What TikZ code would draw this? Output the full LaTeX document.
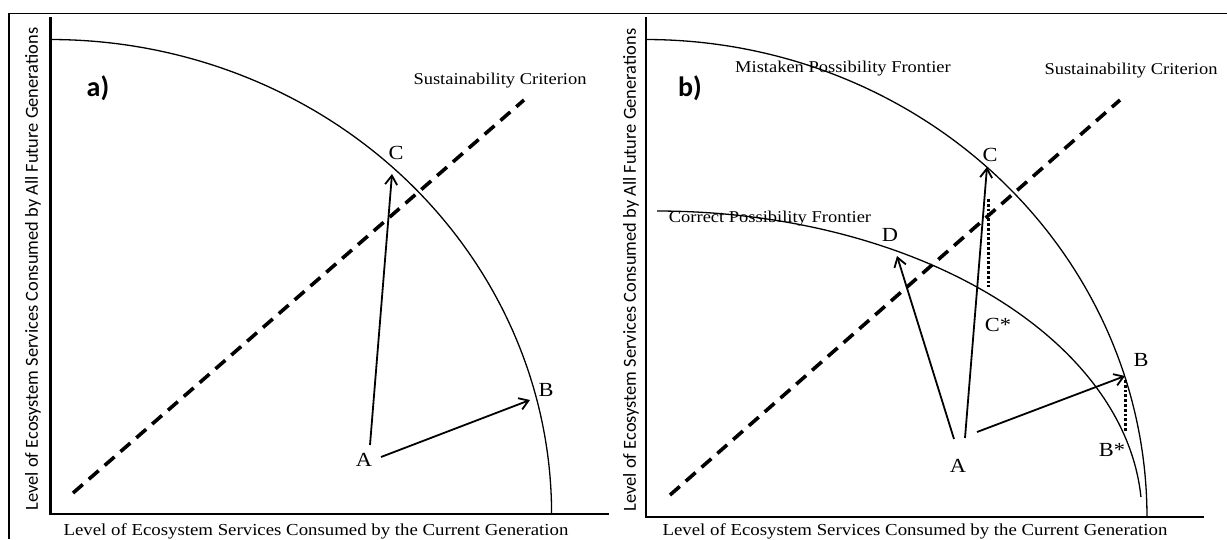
\documentclass[tikz,border=0pt]{standalone}
\usepackage{fontspec}
\setmainfont{Liberation Serif}[FakeStretch=1.12]
\newfontfamily\calib{Carlito}
\usetikzlibrary{arrows.meta}
\tikzset{
  frameline/.style={line width=1.5pt},
  axisline/.style={line width=2.4pt},
  frontier/.style={line width=1.3pt},
  sust/.style={line width=3.6pt, dash pattern=on 13pt off 8pt},
  move/.style={line width=1.8pt, -{Straight Barb[length=9pt,width=12pt,line width=1.8pt]}},
  gapline/.style={line width=3pt, dash pattern=on 2.8pt off 2pt},
  lab/.style={font=\fontsize{20}{20}\selectfont, inner sep=0pt},
  txt/.style={font=\fontsize{16.5}{16.5}\selectfont, inner sep=0pt},
  panel/.style={font=\calib\bfseries\fontsize{28}{28}\selectfont, inner sep=0pt},
  ylab/.style={font=\calib\fontsize{18.4}{18.4}\selectfont, inner sep=0pt, rotate=90},
  xlab/.style={font=\fontsize{16.8}{16.8}\selectfont, inner sep=0pt}
}
\begin{document}
\begin{tikzpicture}[x=1pt,y=-1pt]
\useasboundingbox (0,0) rectangle (1227,539);
% frame
\draw[frameline] (9,539) -- (9,13.5) -- (1227,13.5);

% ===== panel a =====
\draw[axisline] (50.6,17) -- (50.6,514) -- (609,514);
\draw[frontier] plot[domain=0:90,samples=150,smooth] ({50.6+501*cos(\x)},{514-474.5*sin(\x)});
\coordinate (aS1) at (73,493);
\coordinate (aS2) at (524,100);
\draw[sust] (aS1) -- (aS2);
\node[panel] (apanel) at (98,88) {a)};
\node[txt] (asust) at (500,81) {Sustainability Criterion};
\node[lab] (aA) at (364,460) {A};
\node[lab] (aB) at (546,390) {B};
\node[lab] (aC) at (396,153) {C};
\coordinate (aA1) at (370,445);
\coordinate (aA2) at (381,457);
\coordinate (aCt) at (392,174);
\coordinate (aBt) at (530,400);
\draw[move] (aA1) -- (aCt);
\draw[move] (aA2) -- (aBt);
\node[xlab] (axl) at (316,531) {Level of Ecosystem Services Consumed by the Current Generation};
\node[ylab] (ayl) at (33,269) {Level of Ecosystem Services Consumed by All Future Generations};

% ===== panel b =====
\draw[axisline] (646,17) -- (646,517) -- (1204,517);
\draw[frontier] plot[domain=0:90,samples=150,smooth] ({646+501*cos(\x)},{517-477.5*sin(\x)});
\draw[frontier] plot[domain=3.75:90,samples=150,smooth] ({657+485*cos(\x)},{517-306*sin(\x)});
\coordinate (bS1) at (670,495);
\coordinate (bS2) at (1120,100);
\draw[sust] (bS1) -- (bS2);
\node[panel] (bpanel) at (690,88) {b)};
\node[txt] (bmist) at (843,69) {Mistaken Possibility Frontier};
\node[txt] (bsust) at (1131,71) {Sustainability Criterion};
\node[txt] (bcorr) at (770,219) {Correct Possibility Frontier};
\node[lab] (bA) at (958,466) {A};
\node[lab] (bB) at (1141,360) {B};
\node[lab] (bC) at (990,155) {C};
\node[lab] (bD) at (890,235) {D};
\node[lab] (bCs) at (998,325) {C*};
\node[lab] (bBs) at (1112,450) {B*};
\coordinate (bA1) at (954,439);
\coordinate (bA2) at (965,438);
\coordinate (bA3) at (977,432);
\coordinate (bDt) at (897,256);
\coordinate (bCt) at (987,167);
\coordinate (bBt) at (1125,376);
\draw[move] (bA1) -- (bDt);
\draw[move] (bA2) -- (bCt);
\draw[move] (bA3) -- (bBt);
\coordinate (bCd1) at (988,199);
\coordinate (bCd2) at (988,287);
\coordinate (bBd1) at (1125,380);
\coordinate (bBd2) at (1125,432);
\draw[gapline] (bCd1) -- (bCd2);
\draw[gapline] (bBd1) -- (bBd2);
\node[xlab] (bxl) at (915,531) {Level of Ecosystem Services Consumed by the Current Generation};
\node[ylab] (byl) at (631,270) {Level of Ecosystem Services Consumed by All Future Generations};
\end{tikzpicture}
\end{document}
